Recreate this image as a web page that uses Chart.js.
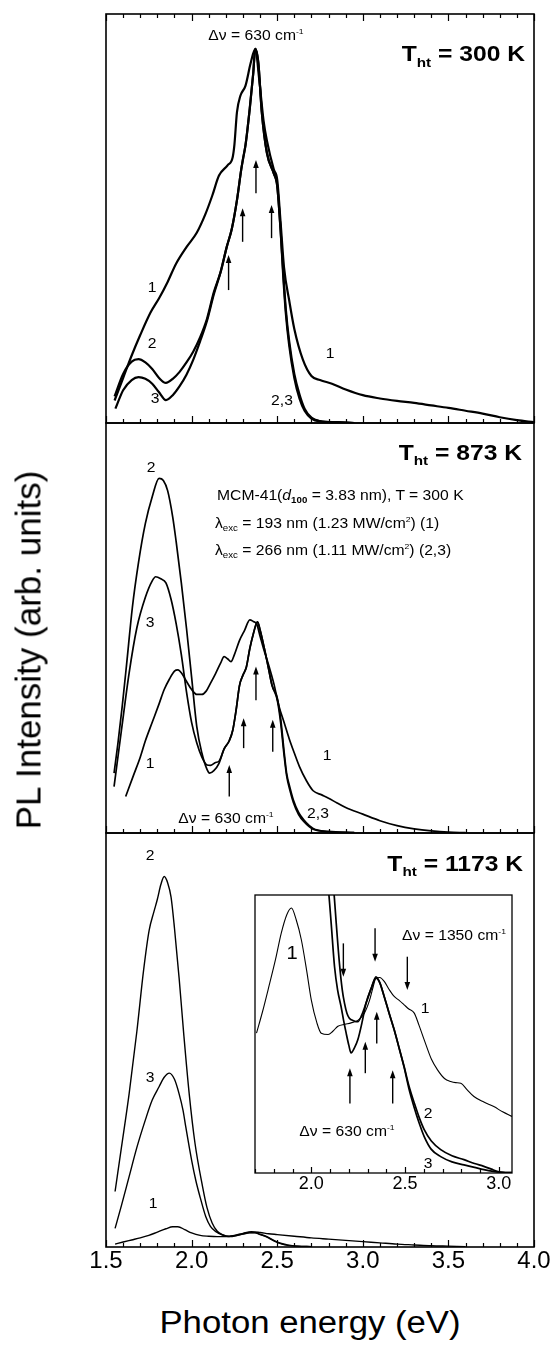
<!DOCTYPE html>
<html><head><meta charset="utf-8">
<script src="https://cdn.jsdelivr.net/npm/chart.js@4.4.1/dist/chart.umd.min.js"></script>
<style>
html,body{margin:0;padding:0;background:#fff;}
#wrap{position:relative;width:557px;height:1349px;overflow:hidden;font-family:"Liberation Sans",Arial,Helvetica,sans-serif;color:#000;background:#fff;}
canvas{position:absolute;}
.ann{position:absolute;white-space:nowrap;line-height:1;}
.ann sub{font-size:0.62em;position:relative;top:0.38em;vertical-align:baseline;line-height:0;}
.ann sup{font-size:0.55em;position:relative;top:-0.8em;vertical-align:baseline;line-height:0;}
.title{position:absolute;white-space:nowrap;line-height:1;}
</style></head><body><div id="wrap">
<canvas id="p1"></canvas><canvas id="p2"></canvas><canvas id="p3"></canvas><canvas id="ins"></canvas>
<div class="title" id="ytitle">PL Intensity (arb. units)</div>
<div class="title" id="xtitle">Photon energy (eV)</div>
</div>
<script>
// ---------- tick labels ----------
const energyTickLabels = ['1.5','2.0','2.5','3.0','3.5','4.0'];
const insetTickLabels = ['2.0','2.5','3.0'];

// ---------- Panel 1: T_ht = 300 K  [energy eV, intensity] ----------
const p1Curve1 = [[1.55,5.5],[1.60,11],[1.65,16.5],[1.70,21.5],[1.76,27],[1.81,30.5],[1.86,34.5],[1.91,39],[1.97,43],[2.03,46.5],[2.08,51],[2.12,55.5],[2.16,60.5],[2.21,63],[2.24,65],[2.25,68],[2.265,76],[2.285,80],[2.315,82.5],[2.345,88],[2.372,91.5],[2.395,84],[2.42,74],[2.44,69],[2.48,62],[2.50,59.5],[2.52,49],[2.54,38],[2.57,30],[2.60,23],[2.65,15.5],[2.70,11.5],[2.75,10.5],[2.82,9.6],[2.90,8.2],[3.00,6.8],[3.10,6],[3.20,5.4],[3.30,4.9],[3.40,4.3],[3.50,3.7],[3.60,3],[3.70,2.3],[3.80,1.4],[3.90,0.7],[4.00,0.2]];
const p1Curve2 = [[1.55,6.5],[1.60,12],[1.65,15],[1.69,15.6],[1.73,14.8],[1.77,13.2],[1.81,11],[1.85,9.8],[1.89,10.8],[1.93,12.5],[1.97,14.8],[2.01,17.5],[2.05,21],[2.09,25.5],[2.13,32],[2.17,37],[2.205,43],[2.235,47.5],[2.265,54.5],[2.29,62],[2.30,64.5],[2.315,68],[2.34,77],[2.36,85.5],[2.372,91.5],[2.39,88],[2.41,76],[2.44,66],[2.48,61],[2.50,58],[2.52,47],[2.535,37],[2.55,28],[2.57,20],[2.60,12],[2.63,7],[2.66,3.5],[2.70,1.3],[2.75,0.5],[2.85,0.2],[2.95,0]];
const p1Curve3 = [[1.555,3.5],[1.60,8],[1.65,10.5],[1.69,11.2],[1.73,10.8],[1.77,9.6],[1.81,7.5],[1.85,5.6],[1.89,6.8],[1.93,9],[1.97,11.8],[2.01,15.5],[2.05,20],[2.09,25],[2.13,31.5],[2.17,37],[2.205,43],[2.235,47.5],[2.265,54.5],[2.29,62],[2.30,64.5],[2.315,68],[2.34,77],[2.36,85.5],[2.372,91.5],[2.39,88],[2.41,76],[2.44,66],[2.48,61],[2.50,58],[2.52,47],[2.535,36],[2.55,27],[2.57,19],[2.60,11],[2.63,6],[2.66,3],[2.70,1.1],[2.75,0.4],[2.85,0.2],[2.95,0]];

// ---------- Panel 2: T_ht = 873 K ----------
const p2Curve1 = [[1.615,8.9],[1.66,14],[1.70,18.5],[1.73,22.5],[1.77,27],[1.81,31.5],[1.84,35],[1.87,37.5],[1.90,39.5],[1.92,39.8],[1.945,38.8],[1.97,37],[2.00,35],[2.03,33.8],[2.06,33.8],[2.085,34.6],[2.11,36.5],[2.14,38.9],[2.17,41.5],[2.19,43],[2.21,42.5],[2.23,41.8],[2.25,43.5],[2.28,47],[2.31,49.5],[2.34,52],[2.36,51.6],[2.38,51],[2.40,48],[2.42,45],[2.45,41],[2.48,36.5],[2.51,31],[2.54,27],[2.57,23],[2.60,19.5],[2.63,16.2],[2.67,12.8],[2.71,10.3],[2.76,9.3],[2.80,8.5],[2.85,7.3],[2.90,6.2],[3.00,4.6],[3.10,3],[3.20,1.8],[3.30,1],[3.40,0.5],[3.50,0.2],[3.60,0.1]];
const p2Curve2 = [[1.547,14.6],[1.57,22],[1.595,31],[1.62,41],[1.654,55],[1.69,66],[1.73,75.5],[1.77,82],[1.81,86.5],[1.835,86],[1.86,83.5],[1.89,77],[1.91,71],[1.94,61],[1.97,50],[2.00,38],[2.03,26],[2.06,19.5],[2.09,15.5],[2.105,14.6],[2.13,15.2],[2.16,17],[2.19,20.5],[2.22,22.5],[2.24,25],[2.26,30],[2.28,36],[2.30,38.5],[2.32,40.5],[2.34,45],[2.36,48.5],[2.385,51.5],[2.40,49.5],[2.425,45],[2.45,40],[2.47,36],[2.50,33],[2.52,28],[2.54,20],[2.555,14.6],[2.575,11],[2.595,8],[2.625,5],[2.655,3.2],[2.71,1.1],[2.80,0.4],[2.95,0.1]];
const p2Curve3 = [[1.547,11.3],[1.59,25],[1.635,39],[1.68,50],[1.73,57.5],[1.77,61.5],[1.79,62.5],[1.82,62],[1.85,61],[1.88,57],[1.91,51],[1.94,43.5],[1.97,34.5],[2.00,27],[2.03,22],[2.06,18.5],[2.09,16.6],[2.11,16.5],[2.14,17.2],[2.16,17.5],[2.19,20.5],[2.22,22.5],[2.24,25],[2.26,30],[2.28,36],[2.30,38.5],[2.32,40.5],[2.34,45],[2.36,48.5],[2.385,51.5],[2.40,49.5],[2.425,45],[2.45,40],[2.47,36],[2.50,32.5],[2.52,27],[2.54,19],[2.555,14],[2.575,10.3],[2.595,7.4],[2.625,4.5],[2.655,2.8],[2.71,0.9],[2.80,0.3],[2.95,0.1]];

// ---------- Panel 3: T_ht = 1173 K ----------
const p3Curve1 = [[1.553,0.7],[1.60,1.2],[1.65,1.7],[1.70,2.2],[1.75,2.8],[1.80,3.6],[1.85,4.4],[1.89,4.9],[1.92,4.9],[1.96,4.2],[2.00,3.4],[2.05,2.8],[2.10,2.6],[2.15,2.5],[2.20,2.5],[2.25,2.8],[2.30,3.3],[2.35,3.7],[2.40,3.5],[2.45,3.2],[2.50,3.0],[2.60,2.6],[2.70,2.2],[2.80,1.9],[2.90,1.6],[3.00,1.3],[3.10,1.0],[3.20,0.7],[3.30,0.5],[3.40,0.3],[3.50,0.2],[3.60,0.1]];
const p3Curve2 = [[1.553,13.4],[1.59,24],[1.635,37],[1.68,52],[1.72,67],[1.752,76.5],[1.78,81],[1.80,84],[1.82,87.5],[1.84,89.5],[1.86,88],[1.88,84.5],[1.90,77],[1.927,65],[1.955,51],[1.986,37],[2.02,25],[2.064,14.6],[2.09,9.5],[2.12,5.8],[2.15,3.8],[2.18,3],[2.22,2.6],[2.26,2.8],[2.30,3.2],[2.34,3.5],[2.37,3.5],[2.40,3.1],[2.44,2.5],[2.48,1.6],[2.52,0.9],[2.56,0.5],[2.62,0.2],[2.70,0.1]];
const p3Curve3 = [[1.553,4.5],[1.59,10],[1.635,17],[1.68,24],[1.73,30.7],[1.77,35.5],[1.81,38.7],[1.84,41],[1.87,42],[1.90,40.5],[1.927,37],[1.95,33],[1.966,29],[2.00,21],[2.025,16],[2.05,12],[2.083,7.3],[2.11,5],[2.142,3.7],[2.18,2.9],[2.22,2.5],[2.26,2.7],[2.30,3.1],[2.34,3.4],[2.37,3.4],[2.40,3.0],[2.44,2.4],[2.48,1.5],[2.52,0.8],[2.56,0.4],[2.62,0.2],[2.70,0.1]];

// ---------- Inset (normalised) ----------
const insCurve1 = [[1.708,50.3],[1.74,58],[1.77,66],[1.81,77],[1.84,86.3],[1.87,93],[1.894,95.3],[1.92,91],[1.947,83.9],[1.975,73],[2.00,62.3],[2.03,54],[2.053,50.3],[2.09,49.8],[2.115,51],[2.142,52.8],[2.18,53.5],[2.212,54],[2.25,55],[2.283,57.5],[2.31,62],[2.33,67],[2.345,70.1],[2.365,70.3],[2.389,68.9],[2.415,66],[2.442,63.5],[2.47,62],[2.495,60.5],[2.52,59],[2.549,57.5],[2.575,53],[2.602,47.9],[2.64,41],[2.673,37.1],[2.71,34],[2.743,32.9],[2.77,32.5],[2.797,32.3],[2.83,30],[2.867,27.5],[2.92,25.5],[2.973,23.9],[3.02,22],[3.071,20.3]];
const insCurve2 = [[2.11,110],[2.12,101.8],[2.133,89.9],[2.15,75.5],[2.165,66],[2.177,61.1],[2.19,57.5],[2.203,55.7],[2.225,54.8],[2.248,54.4],[2.27,57],[2.292,61.1],[2.32,66.5],[2.345,70.6],[2.365,68.5],[2.389,63.4],[2.415,57.5],[2.442,51.5],[2.47,44.5],[2.495,38.3],[2.52,31.5],[2.549,25.2],[2.575,20],[2.602,15.6],[2.64,11.5],[2.69,8.4],[2.75,6.2],[2.814,4.8],[2.87,3.4],[2.92,2.4],[2.96,1.4],[2.99,0.6],[3.02,0.2],[3.071,0.1]];
const insCurve3 = [[2.08,110],[2.092,101.8],[2.106,89.9],[2.124,74.2],[2.14,66],[2.159,59.8],[2.172,55],[2.186,50.3],[2.2,46],[2.212,43.2],[2.23,45],[2.248,47.9],[2.27,54],[2.292,61.1],[2.32,66.5],[2.345,70.1],[2.365,68.5],[2.389,63.4],[2.415,57.5],[2.442,51.5],[2.47,44.5],[2.495,38],[2.52,30.5],[2.549,23.5],[2.575,18],[2.602,13.1],[2.64,8.5],[2.69,5.9],[2.75,4],[2.814,2.9],[2.87,2],[2.92,1.2],[2.97,0.6],[3.02,0.2],[3.071,0.1]];

// ---------- Arrows [energy, tail, tip] ----------
const p1Arrows = [[2.216,32.5,41.1],[2.298,44.3,52.5],[2.376,56.2,64.3],[2.467,45.2,53.3]];
const p2Arrows = [[2.22,8.9,16.6],[2.304,20.7,28],[2.376,32.4,40.6],[2.474,19.8,27.6]];
const insArrows = [[2.171,82.6,70.6],[2.34,88,76],[2.512,77.8,65.8],[2.206,25,37.7],[2.288,35.9,47.2],[2.349,46.6,58],[2.434,25,37]];

// ---------- helpers ----------
const FONT = '"Liberation Sans", Arial, Helvetica, sans-serif';
function isTenth(v){ return Math.abs(v*10 - Math.round(v*10)) < 1e-6; }
function labelFrom(list){ return function(v){ const s = Number(v).toFixed(1); return (isTenth(v) && list.includes(s)) ? s : ''; }; }
function toXY(arr){ return arr.map(p => ({x:p[0], y:p[1]})); }
function ds(arr, w){ return {data: toXY(arr), borderColor:'#000', borderWidth:w, pointRadius:0, fill:false, cubicInterpolationMode:'monotone'}; }

function framePlugin(arrows, o){
  return {
    id:'frame',
    afterDraw(chart){
      const ctx = chart.ctx, a = chart.chartArea, xs = chart.scales.x, ys = chart.scales.y;
      ctx.save();
      ctx.strokeStyle = '#000'; ctx.fillStyle = '#000';
      ctx.lineWidth = o.lw;
      ctx.strokeRect(a.left, a.top, a.right - a.left, a.bottom - a.top);
      ctx.lineWidth = 1.2;
      ctx.beginPath();
      for (const t of xs.ticks){
        const v = t.value; if (!isTenth(v)) continue;
        const k = Math.round(v*10);
        const len = (k % 5 === 0) ? o.major : o.minor;
        const px = Math.round(xs.getPixelForValue(v)) + 0.5;
        ctx.moveTo(px, a.bottom); ctx.lineTo(px, a.bottom - len);
        if (o.top){ ctx.moveTo(px, a.top); ctx.lineTo(px, a.top + len); }
      }
      ctx.stroke();
      for (const ar of arrows){
        const px = xs.getPixelForValue(ar[0]);
        const y0 = ys.getPixelForValue(ar[1]), y1 = ys.getPixelForValue(ar[2]);
        const dir = Math.sign(y1 - y0);
        const hl = 8, hw = 2.8;
        ctx.lineWidth = 1.4;
        ctx.beginPath(); ctx.moveTo(px, y0); ctx.lineTo(px, y1 - dir*hl*0.8); ctx.stroke();
        ctx.beginPath(); ctx.moveTo(px, y1); ctx.lineTo(px - hw, y1 - dir*hl); ctx.lineTo(px + hw, y1 - dir*hl); ctx.closePath(); ctx.fill();
      }
      ctx.restore();
    }
  };
}

function makeChart(id, pos, datasets, xOpt, arrows, frameOpt){
  const cv = document.getElementById(id);
  cv.width = pos.w; cv.height = pos.h;
  cv.style.left = pos.left + 'px'; cv.style.top = pos.top + 'px';
  cv.style.width = pos.w + 'px'; cv.style.height = pos.h + 'px';
  return new Chart(cv, {
    type:'line',
    data:{datasets},
    options:{
      responsive:false, animation:false, devicePixelRatio:1, events:[],
      layout:{padding:pos.pad},
      plugins:{legend:{display:false}, tooltip:{enabled:false}},
      scales:{
        x:{type:'linear', min:xOpt.min, max:xOpt.max,
           grid:{display:false, drawTicks:false}, border:{display:false},
           ticks:{stepSize:0.1, includeBounds:false, autoSkip:false, maxRotation:0, display:xOpt.labels,
                  padding:xOpt.pad || 0, color:'#000',
                  font:{family:FONT, size:xOpt.fs || 12},
                  callback: labelFrom(xOpt.list || [])},
           afterFit(s){ s.height = xOpt.h; }},
        y:{display:false, min:0, max:100}
      }
    },
    plugins:[framePlugin(arrows, frameOpt)]
  });
}

const c1 = makeChart('p1', {left:0, top:10, w:557, h:417, pad:{left:106,right:23,top:4,bottom:4}},
  [ds(p1Curve1,2.2), ds(p1Curve2,2.2), ds(p1Curve3,2.2)],
  {min:1.5, max:4.0, labels:false, h:0}, p1Arrows, {lw:1.6, major:7, minor:4, top:true});
const c2 = makeChart('p2', {left:0, top:419, w:557, h:418, pad:{left:106,right:23,top:4,bottom:4}},
  [ds(p2Curve1,1.7), ds(p2Curve2,1.7), ds(p2Curve3,1.7)],
  {min:1.5, max:4.0, labels:false, h:0}, p2Arrows, {lw:1.6, major:7, minor:4, top:false});
const c3 = makeChart('p3', {left:0, top:829, w:557, h:468, pad:{left:106,right:23,top:4,bottom:0}},
  [ds(p3Curve1,1.4), ds(p3Curve2,1.4), ds(p3Curve3,1.4)],
  {min:1.5, max:4.0, labels:true, h:50, fs:24, pad:0, list:energyTickLabels}, [], {lw:1.6, major:7, minor:4, top:false});
const c4 = makeChart('ins', {left:251, top:891, w:265, h:318, pad:{left:4,right:4,top:4,bottom:0}},
  [ds(insCurve1,1.1), ds(insCurve2,1.7), ds(insCurve3,1.7)],
  {min:1.7, max:3.07, labels:true, h:36, fs:18, pad:0, list:insetTickLabels}, insArrows, {lw:1.3, major:6, minor:4, top:false});

// ---------- annotations (data coordinates) ----------
const notes = [
  [c1, 2.376, 94.9, 'Δν = 630 cm<sup>-1</sup>', 14, false, 'c'],
  [c1, 3.947, 90.1, 'T<sub>ht</sub> = 300 K', 22, true, 'r'],
  [c1, 1.769, 33.3, '1', 14, false, 'c'],
  [c1, 1.769, 19.6, '2', 14, false, 'c'],
  [c1, 1.786, 6.1, '3', 14, false, 'c'],
  [c1, 2.808, 17.1, '1', 14, false, 'c'],
  [c1, 2.528, 5.6, '2,3', 14, false, 'c'],
  [c2, 3.93, 92.8, 'T<sub>ht</sub> = 873 K', 22, true, 'r'],
  [c2, 1.763, 89.3, '2', 14, false, 'c'],
  [c2, 1.757, 51.5, '3', 14, false, 'c'],
  [c2, 1.757, 17.1, '1', 14, false, 'c'],
  [c2, 2.791, 19.0, '1', 14, false, 'c'],
  [c2, 2.738, 4.9, '2,3', 14, false, 'c'],
  [c2, 2.201, 3.7, 'Δν = 630 cm<sup>-1</sup>', 14, false, 'c'],
  [c2, 2.148, 82.4, 'MCM-41(<i>d</i><sub><b>100</b></sub> = 3.83 nm), T = 300 K', 14, false, 'l'],
  [c2, 2.137, 75.6, 'λ<sub>exc</sub> = 193 nm (1.23 MW/cm<sup>2</sup>) (1)', 14, false, 'l'],
  [c2, 2.137, 69.0, 'λ<sub>exc</sub> = 266 nm (1.11 MW/cm<sup>2</sup>) (2,3)', 14, false, 'l'],
  [c3, 3.936, 92.5, 'T<sub>ht</sub> = 1173 K', 22, true, 'r'],
  [c3, 1.757, 94.7, '2', 14, false, 'c'],
  [c3, 1.757, 41.1, '3', 14, false, 'c'],
  [c3, 1.775, 10.6, '1', 14, false, 'c'],
  [c4, 1.897, 79.1, '1', 18, false, 'c'],
  [c4, 2.761, 85.6, 'Δν = 1350 cm<sup>-1</sup>', 14, false, 'c'],
  [c4, 2.606, 59.4, '1', 14, false, 'c'],
  [c4, 2.622, 21.6, '2', 14, false, 'c'],
  [c4, 2.622, 3.6, '3', 14, false, 'c'],
  [c4, 2.193, 15.1, 'Δν = 630 cm<sup>-1</sup>', 14, false, 'c']
];
const wrap = document.getElementById('wrap');
const STRETCH = 1.12;
for (const [ch, x, y, html, fs, bold, an] of notes){
  const d = document.createElement('div');
  d.className = 'ann';
  d.innerHTML = html;
  d.style.fontSize = fs + 'px';
  if (bold) d.style.fontWeight = 'bold';
  const cv = ch.canvas;
  d.style.left = (cv.offsetLeft + ch.scales.x.getPixelForValue(x)) + 'px';
  d.style.top = (cv.offsetTop + ch.scales.y.getPixelForValue(y)) + 'px';
  if (an === 'c'){ d.style.transformOrigin = 'center center'; d.style.transform = 'translate(-50%,-50%) scaleX(' + STRETCH + ')'; }
  else if (an === 'r'){ d.style.transformOrigin = 'right center'; d.style.transform = 'translate(-100%,-50%) scaleX(' + STRETCH + ')'; }
  else { d.style.transformOrigin = 'left center'; d.style.transform = 'translate(0,-50%) scaleX(' + STRETCH + ')'; }
  wrap.appendChild(d);
}
const yt = document.getElementById('ytitle');
yt.style.fontSize = '35px'; yt.style.left = '28px'; yt.style.top = '650px';
yt.style.transform = 'translate(-50%,-50%) rotate(-90deg)';
const xt = document.getElementById('xtitle');
xt.style.fontSize = '31px'; xt.style.left = '310px'; xt.style.top = '1322px';
xt.style.transform = 'translate(-50%,-50%) scaleX(' + STRETCH + ')';
</script>
</body></html>
